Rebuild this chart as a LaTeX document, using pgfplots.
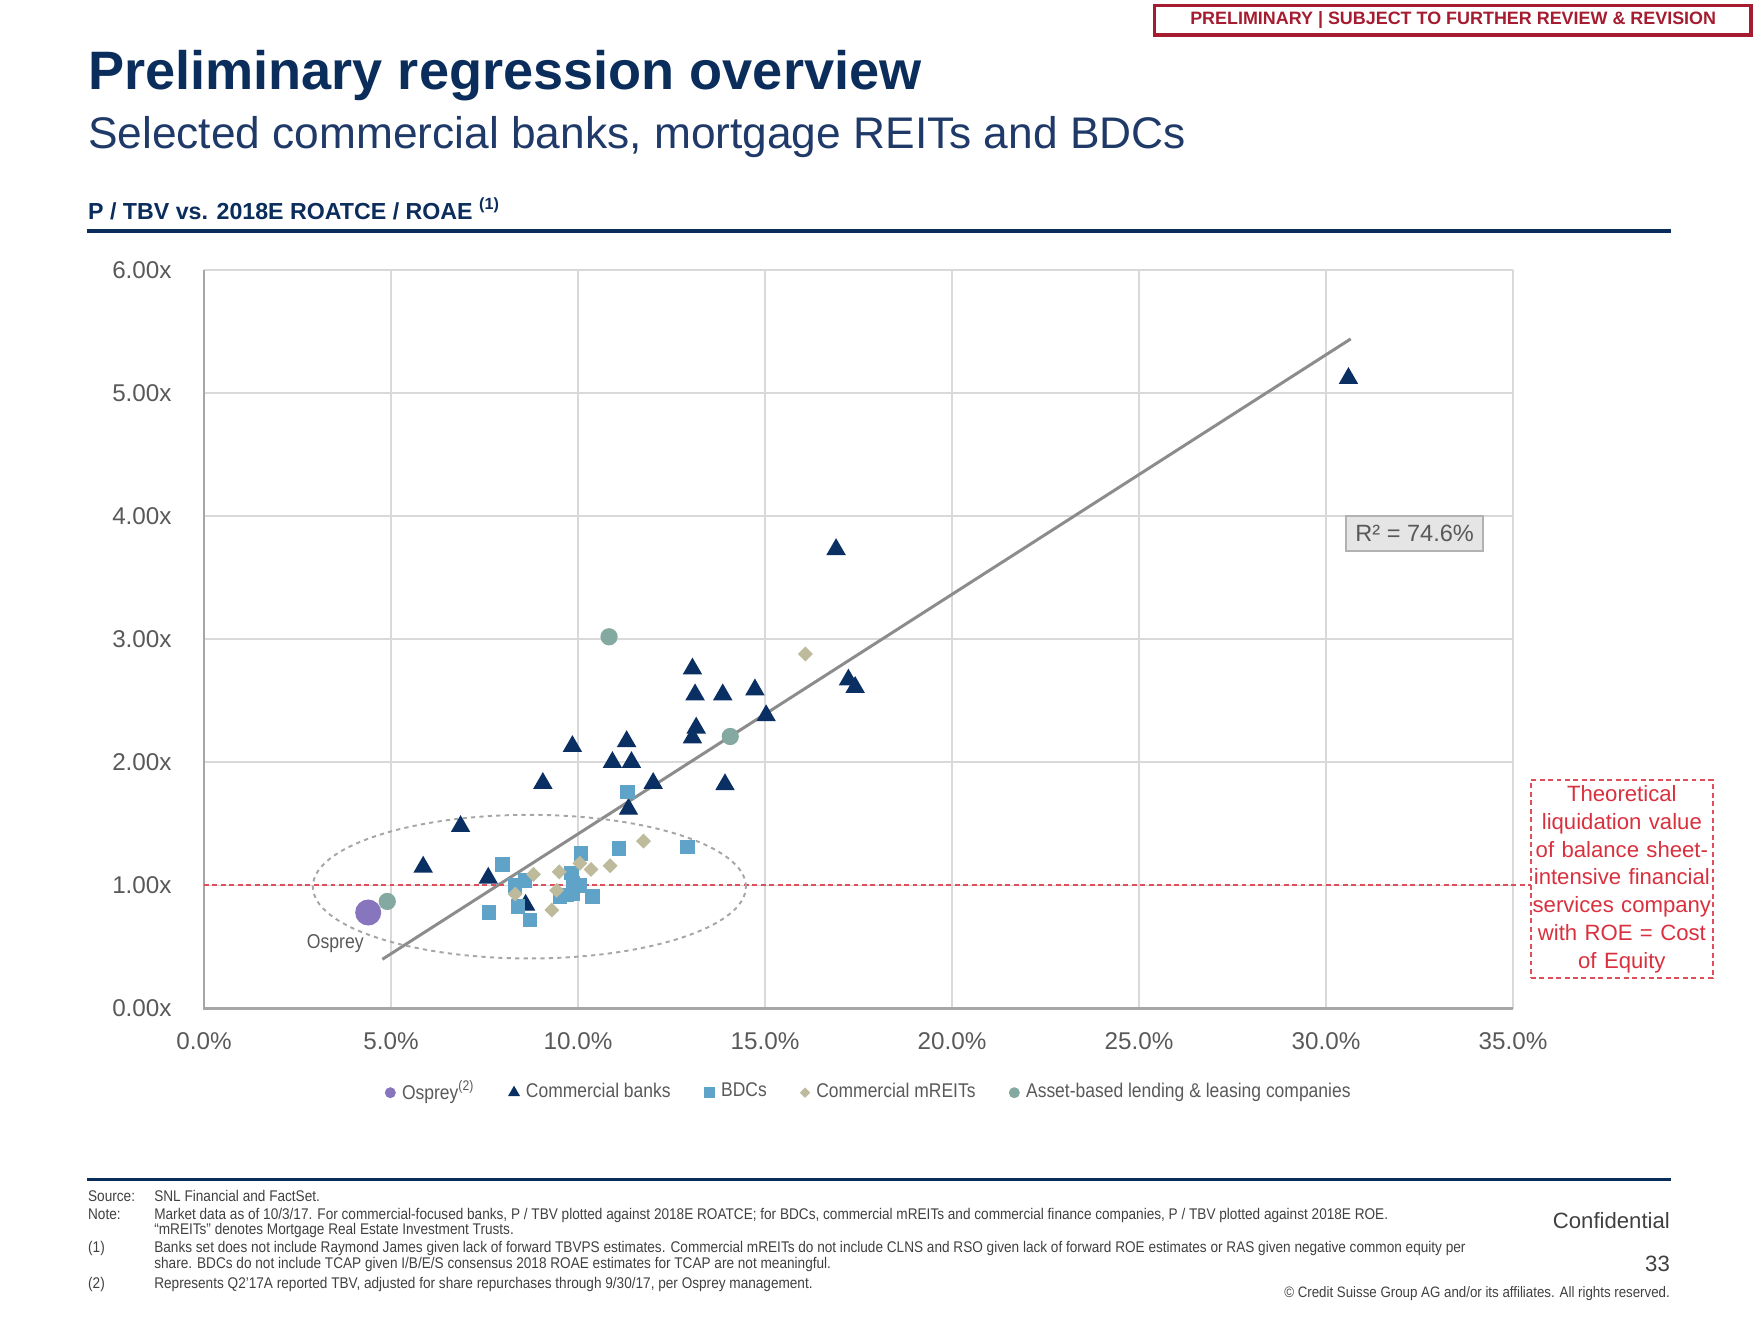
\documentclass[border=0pt]{standalone}
\usepackage{fontspec}
\setmainfont{Liberation Sans}
\newfontfamily\cond[FakeStretch=0.88]{Liberation Sans}
\usepackage{pgfplots}
\pgfplotsset{compat=1.18}
\definecolor{navy}{HTML}{0B2D5C}
\definecolor{subnavy}{HTML}{1F3A68}
\definecolor{bank}{HTML}{0A2F62}
\definecolor{bdc}{HTML}{5FA3C8}
\definecolor{mreit}{HTML}{BDBB9C}
\definecolor{abl}{HTML}{84A9A0}
\definecolor{osprey}{HTML}{8775BD}
\definecolor{txtgray}{HTML}{595959}
\definecolor{notegray}{HTML}{404040}
\definecolor{gridgray}{HTML}{D9D9D9}
\definecolor{dred}{HTML}{A51C30}
\definecolor{lred}{HTML}{D9303E}
\definecolor{regline}{HTML}{8C8C8C}
\begin{document}
\begin{tikzpicture}
\path[use as bounding box] (0,0) rectangle (17.59cm,-13.20cm);
\begin{axis}[
 at={(2.04cm,-10.085cm)}, anchor=south west,
 scale only axis, width=13.09cm, height=7.385cm,
 xmin=0, xmax=35, ymin=0, ymax=6,
 xtick={0,5,...,35}, ytick={0,1,...,6},
 grid=major, grid style={gridgray, line width=0.5pt},
 axis line style={draw=none},
 major tick length=0pt,
 /pgf/number format/assume math mode=true,
 ticklabel style={font=\fontsize{6.9}{8}\selectfont, text=txtgray},
 xticklabel={\pgfmathprintnumber[fixed,fixed zerofill,precision=1]{\tick}\%},
 yticklabel={\pgfmathprintnumber[fixed,fixed zerofill,precision=2]{\tick}x},
 yticklabel style={xshift=-0.2cm},
 xticklabel style={yshift=-0.12cm},
 clip=false,
 legend columns=-1,
 legend style={at={(0.51,-0.114)}, anchor=center, draw=none, fill=none,
   font=\cond\fontsize{5.65}{7}\selectfont, text=txtgray,
   /tikz/every even column/.append style={column sep=0.27cm}},
 legend image code/.code={\draw[#1] plot coordinates {(0.05cm,0cm)};},
]
\draw[gray!70, line width=0.6pt] (axis cs:0,6) -- (axis cs:0,0) -- (axis cs:35,0);
\addplot[only marks, mark=*, mark size=3.5pt, color=osprey, legend image post style={mark size=1.35pt}] coordinates {(4.39,0.78)};
\addlegendentry{Osprey\textsuperscript{(2)}}
\addplot[only marks, mark=triangle*, mark size=2.8pt, color=bank, legend image post style={mark size=1.6pt}] coordinates {
(5.86,1.15) (6.86,1.48) (7.60,1.06) (8.60,0.84) (9.06,1.83) (9.85,2.13)
(10.92,2.00) (11.30,2.17) (11.43,2.00) (11.35,1.62) (12.01,1.83)
(13.06,2.76) (13.13,2.55) (13.16,2.28) (13.06,2.20) (13.87,2.55) (13.93,1.82)
(14.73,2.59) (15.03,2.38) (16.90,3.73) (17.23,2.67) (17.41,2.61) (30.60,5.12)};
\addlegendentry{Commercial banks}
\addplot[only marks, mark=square*, mark size=1.85pt, color=bdc, legend image post style={mark size=1.35pt}] coordinates {
(7.62,0.78) (7.98,1.17) (8.32,1.00) (8.40,0.83) (8.58,1.04) (8.72,0.72)
(9.52,0.91) (9.70,0.92) (9.83,1.10) (9.87,1.02) (9.87,0.93) (10.05,1.00)
(10.08,1.26) (10.39,0.91) (11.10,1.30) (11.32,1.76) (12.93,1.31)};
\addlegendentry{BDCs}
\addplot[only marks, mark=square*, mark options={rotate=45}, mark size=1.3pt, color=mreit, legend image post style={mark size=0.85pt}] coordinates {
(8.32,0.93) (8.81,1.09) (9.30,0.80) (9.43,0.96) (9.50,1.11) (10.05,1.18)
(10.35,1.13) (10.86,1.16) (11.75,1.36) (16.08,2.88)};
\addlegendentry{Commercial mREITs}
\addplot[only marks, mark=*, mark size=2.25pt, color=abl, legend image post style={mark size=1.35pt}] coordinates {
(4.90,0.87) (10.83,3.02) (14.07,2.21)};
\addlegendentry{Asset-based lending \& leasing companies}
\addplot[forget plot, color=regline, line width=0.85pt] coordinates {(4.77,0.40) (30.66,5.44)};
\addplot[forget plot, color=lred!85, dash pattern=on 1.4pt off 1pt, line width=0.6pt] coordinates {(0,1) (35.48,1)};
\draw[gray!70, dash pattern=on 1.2pt off 1.2pt, line width=0.55pt] (axis cs:8.70,0.99) ellipse [x radius=2.165cm, y radius=0.718cm];
\node[font=\cond\fontsize{5.7}{7}\selectfont, text=txtgray] at (axis cs:3.51,0.53) {Osprey};
\node[fill=gray!20, draw=gray!60, line width=0.5pt, minimum width=1.37cm, minimum height=0.35cm, inner sep=0pt,
  font=\fontsize{6.7}{8}\selectfont, text=txtgray] at (axis cs:32.37,3.86) {R² = 74.6\%};
\node[draw=lred!85, dash pattern=on 1.4pt off 1pt, line width=0.6pt, text width=1.82cm, minimum height=1.98cm,
  inner sep=0pt, align=center, text=lred, font=\fontsize{6.3}{7.95}\selectfont] at (axis cs:37.91,1.05)
  {Theoretical\\ liquidation value\\ of balance sheet-\\ intensive financial\\ services company\\ with ROE = Cost\\ of Equity};
\end{axis}
\begin{scope}[x=0.01cm,y=-0.01cm]
\draw[dred, line width=1pt] (1155,5.6) rectangle (1752,34.8);
\node[text=dred, font=\bfseries\fontsize{5.1}{6}\selectfont, inner sep=0pt] at (1454,20.5) {PRELIMINARY | SUBJECT TO FURTHER REVIEW \& REVISION};
\node[anchor=base west, inner sep=0pt, text=navy, font=\bfseries\fontsize{15.4}{18}\selectfont] at (87.5,89.7) {Preliminary regression overview};
\node[anchor=base west, inner sep=0pt, text=subnavy, font=\fontsize{12.6}{15}\selectfont] at (87.5,149) {Selected commercial banks, mortgage REITs and BDCs};
\node[anchor=base west, inner sep=0pt, text=navy, font=\bfseries\fontsize{6.6}{8}\selectfont] at (87.5,220) {P / TBV vs. 2018E ROATCE / ROAE \textsuperscript{(1)}};
\draw[navy, line width=1.15pt] (87.5,231) -- (1671.5,231);
\draw[navy, line width=0.9pt] (87.5,1180) -- (1671.5,1180);
\begin{scope}[every node/.style={anchor=base west, inner sep=0pt, text=notegray, font=\cond\fontsize{4.4}{5}\selectfont}]
\node at (87.5,1202.6) {Source:};
\node at (153.7,1202.6) {SNL Financial and FactSet.};
\node at (87.5,1220.5) {Note:};
\node at (153.7,1220.5) {Market data as of 10/3/17. For commercial-focused banks, P / TBV plotted against 2018E ROATCE; for BDCs, commercial mREITs and commercial finance companies, P / TBV plotted against 2018E ROE.};
\node at (153.7,1235) {“mREITs” denotes Mortgage Real Estate Investment Trusts.};
\node at (87.5,1253) {(1)};
\node at (153.7,1253) {Banks set does not include Raymond James given lack of forward TBVPS estimates. Commercial mREITs do not include CLNS and RSO given lack of forward ROE estimates or RAS given negative common equity per};
\node at (153.7,1269) {share. BDCs do not include TCAP given I/B/E/S consensus 2018 ROAE estimates for TCAP are not meaningful.};
\node at (87.5,1289) {(2)};
\node at (153.7,1289) {Represents Q2’17A reported TBV, adjusted for share repurchases through 9/30/17, per Osprey management.};
\end{scope}
\node[anchor=base east, inner sep=0pt, text=notegray, font=\fontsize{6.3}{7}\selectfont] at (1671.5,1229.5) {Confidential};
\node[anchor=base east, inner sep=0pt, text=notegray, font=\fontsize{6.3}{7}\selectfont] at (1671.5,1272) {33};
\node[anchor=base east, inner sep=0pt, text=notegray, font=\cond\fontsize{4.3}{5}\selectfont] at (1671.5,1298) {© Credit Suisse Group AG and/or its affiliates. All rights reserved.};
\end{scope}
\end{tikzpicture}
\end{document}
